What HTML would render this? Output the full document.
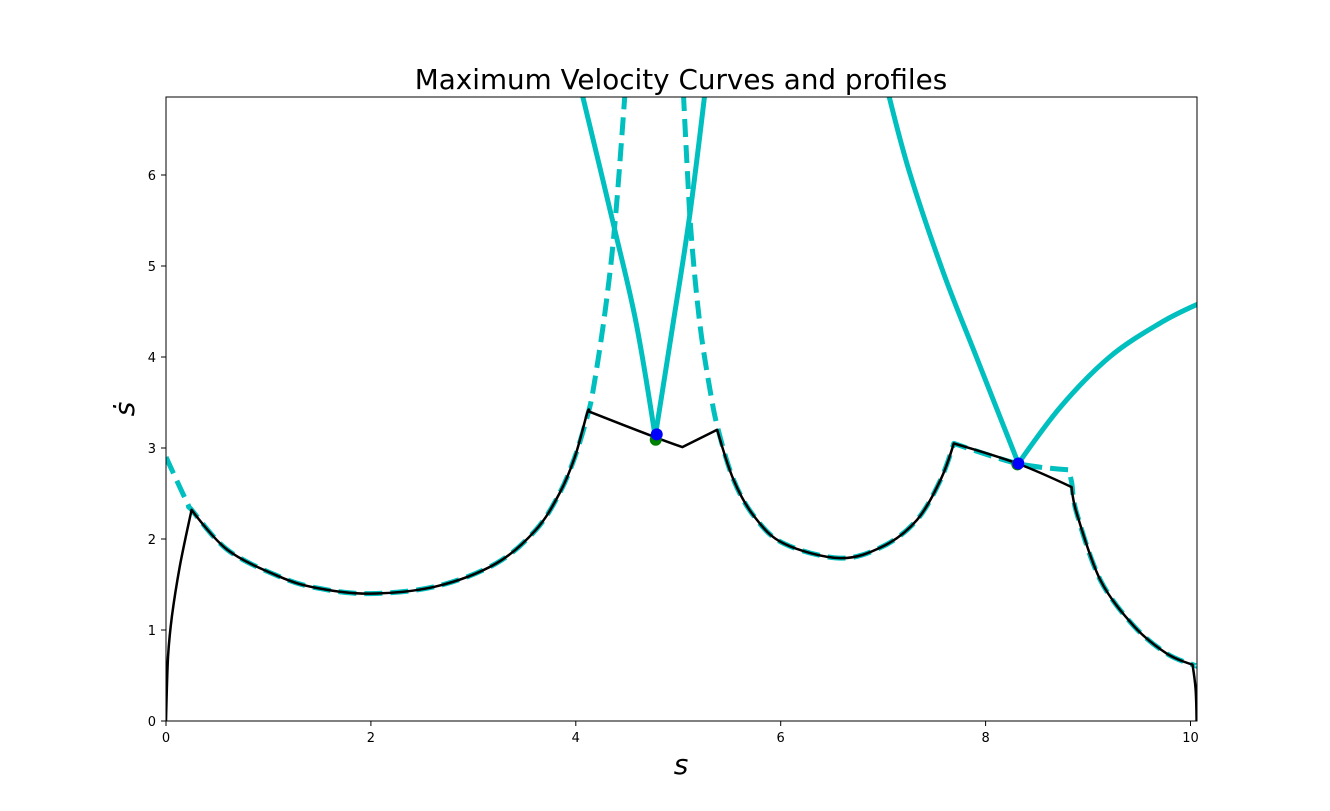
<!DOCTYPE html>
<html><head><meta charset="utf-8"><style>
body{margin:0;background:#fff;}
svg{display:block;font-family:"DejaVu Sans","Liberation Sans",sans-serif;}
</style></head><body>
<svg id="chart" width="1330" height="811" viewBox="0 0 1330 811" xmlns="http://www.w3.org/2000/svg">
<defs><clipPath id="clip"><rect x="166" y="97" width="1031" height="624"/></clipPath></defs>
<text x="681" y="89" font-size="27.8" text-anchor="middle">Maximum Velocity Curves and profiles</text>
<g id="plot" clip-path="url(#clip)"></g>
<rect x="166" y="97" width="1031" height="624" fill="none" stroke="#000" stroke-width="1"/>
<g id="ticks"></g>
<text x="681" y="774" font-size="28" font-style="italic" text-anchor="middle">s</text>
<text x="134" y="409" font-size="28" font-style="italic" text-anchor="middle" transform="rotate(-90 134 409)">ṡ</text>
</svg>
<script>
const xTicks=[0,2,4,6,8,10];
const yTicks=[0,1,2,3,4,5,6];
const mvcLeftS=[0,0.21,0.25,0.60,1.10,1.48,1.99,2.64,3.22,3.61,3.84,3.99,4.11,4.17,4.27,4.35,4.41,4.48];
const mvcLeftV=[2.90,2.39,2.32,1.88,1.59,1.46,1.40,1.48,1.73,2.10,2.50,2.90,3.34,3.64,4.37,5.10,5.84,6.90];
const mvcRightS=[5.05,5.09,5.13,5.21,5.31,5.39,5.54,5.74,6.03,6.58,7.00,7.33,7.56,7.69,8.31,8.81,8.84,8.89,9.12,9.45,9.77,10.02,10.07];
const mvcRightV=[6.90,6.02,5.29,4.37,3.64,3.20,2.65,2.25,1.95,1.79,1.92,2.21,2.65,3.05,2.83,2.76,2.62,2.28,1.55,1.04,0.74,0.62,0.60];
const profS=[0,0.02,0.058,0.135,0.25,0.60,1.10,1.48,1.99,2.64,3.22,3.61,3.84,3.99,4.11,4.13,4.77,5.04,5.38,5.54,5.74,6.03,6.58,7.00,7.33,7.56,7.69,8.31,8.84,8.89,9.12,9.45,9.77,10.02,10.05,10.06];
const profV=[0,0.7,1.15,1.70,2.32,1.88,1.59,1.46,1.40,1.48,1.73,2.10,2.50,2.90,3.38,3.40,3.12,3.01,3.20,2.65,2.25,1.95,1.79,1.92,2.21,2.65,3.05,2.83,2.57,2.28,1.55,1.04,0.74,0.62,0.35,0];
const intAS=[4.06,4.38,4.59,4.77];
const intAV=[6.90,5.40,4.37,3.16];
const intBS=[4.78,4.95,5.11,5.26];
const intBV=[3.16,4.37,5.54,6.90];
const intCS=[7.05,7.26,7.59,7.91,8.32];
const intCV=[6.90,6.02,4.92,4.00,2.83];
const intDS=[8.32,8.73,9.21,9.70,10.07];
const intDV=[2.83,3.45,4.00,4.37,4.58];
const greenS=[4.78,8.31];
const greenV=[3.09,2.82];
const blueS=[4.79,8.32];
const blueV=[3.15,2.83];

const X=s=>166+s*102.45;
const Y=v=>721-v*91;
const NS="http://www.w3.org/2000/svg";
const plot=document.getElementById('plot');
const ticks=document.getElementById('ticks');
function smoothPath(xs,ys){
  const P=xs.map((s,i)=>[X(s),Y(ys[i])]);
  const n=P.length;
  const ang=(a,b)=>Math.atan2(b[1]-a[1],b[0]-a[0]);
  const corner=P.map((p,i)=>{
    if(i==0||i==n-1)return true;
    let d=Math.abs(ang(P[i-1],p)-ang(p,P[i+1]));
    if(d>Math.PI)d=2*Math.PI-d;
    return d>0.6;
  });
  let d='M'+P[0][0].toFixed(1)+' '+P[0][1].toFixed(1);
  for(let i=0;i<n-1;i++){
    const p0=P[i],p1=P[i+1];
    const pm=corner[i]?p0:P[i-1];
    const pp=corner[i+1]?p1:P[i+2];
    const c1=corner[i]?p0:[p0[0]+(p1[0]-pm[0])/6,p0[1]+(p1[1]-pm[1])/6];
    const c2=corner[i+1]?p1:[p1[0]-(pp[0]-p0[0])/6,p1[1]-(pp[1]-p0[1])/6];
    d+=' C'+c1.map(v=>v.toFixed(1)).join(' ')+' '+c2.map(v=>v.toFixed(1)).join(' ')+' '+p1.map(v=>v.toFixed(1)).join(' ');
  }
  return d;
}
function line(xs,ys,color,w,dash,name){
  const p=document.createElementNS(NS,'path');
  p.setAttribute('d',smoothPath(xs,ys));
  p.setAttribute('fill','none');p.setAttribute('stroke',color);p.setAttribute('stroke-width',w);
  p.setAttribute('stroke-linejoin','round');
  if(dash)p.setAttribute('stroke-dasharray',dash);
  
  
  plot.appendChild(p);
}
line(mvcLeftS,mvcLeftV,'#00bfbf',5,'18 8','mvc-left-dashed');
line(mvcRightS,mvcRightV,'#00bfbf',5,'18 8','mvc-right-dashed');
line(intAS,intAV,'#00bfbf',5,null,'integration-curve-a');
line(intBS,intBV,'#00bfbf',5,null,'integration-curve-b');
line(intCS,intCV,'#00bfbf',5,null,'integration-curve-c');
line(intDS,intDV,'#00bfbf',5,null,'integration-curve-d');
line(profS,profV,'#000',2.5,null,'velocity-profile');
function dots(xs,ys,color,name){
  xs.forEach((s,i)=>{
    const c=document.createElementNS(NS,'circle');
    c.setAttribute('cx',X(s));c.setAttribute('cy',Y(ys[i]));c.setAttribute('r',6);c.setAttribute('fill',color);
    
    
    plot.appendChild(c);
  });
}
dots(greenS,greenV,'#008000','switch-point-green');
dots(blueS,blueV,'#0000ff','switch-point-blue');
xTicks.forEach(t=>{
  const l=document.createElementNS(NS,'line');
  l.setAttribute('x1',X(t));l.setAttribute('x2',X(t));l.setAttribute('y1',721);l.setAttribute('y2',726);l.setAttribute('stroke','#000');
  
  
  ticks.appendChild(l);
  const tx=document.createElementNS(NS,'text');
  tx.setAttribute('x',X(t));tx.setAttribute('y',742);tx.setAttribute('font-size',13);tx.setAttribute('text-anchor','middle');
  tx.textContent=t;
  
  
  ticks.appendChild(tx);
});
yTicks.forEach(t=>{
  const l=document.createElementNS(NS,'line');
  l.setAttribute('x1',161);l.setAttribute('x2',166);l.setAttribute('y1',Y(t));l.setAttribute('y2',Y(t));l.setAttribute('stroke','#000');
  
  
  ticks.appendChild(l);
  const tx=document.createElementNS(NS,'text');
  tx.setAttribute('x',156);tx.setAttribute('y',Y(t)+5);tx.setAttribute('font-size',13);tx.setAttribute('text-anchor','end');
  tx.textContent=t;
  
  
  ticks.appendChild(tx);
});
</script>
</body></html>
